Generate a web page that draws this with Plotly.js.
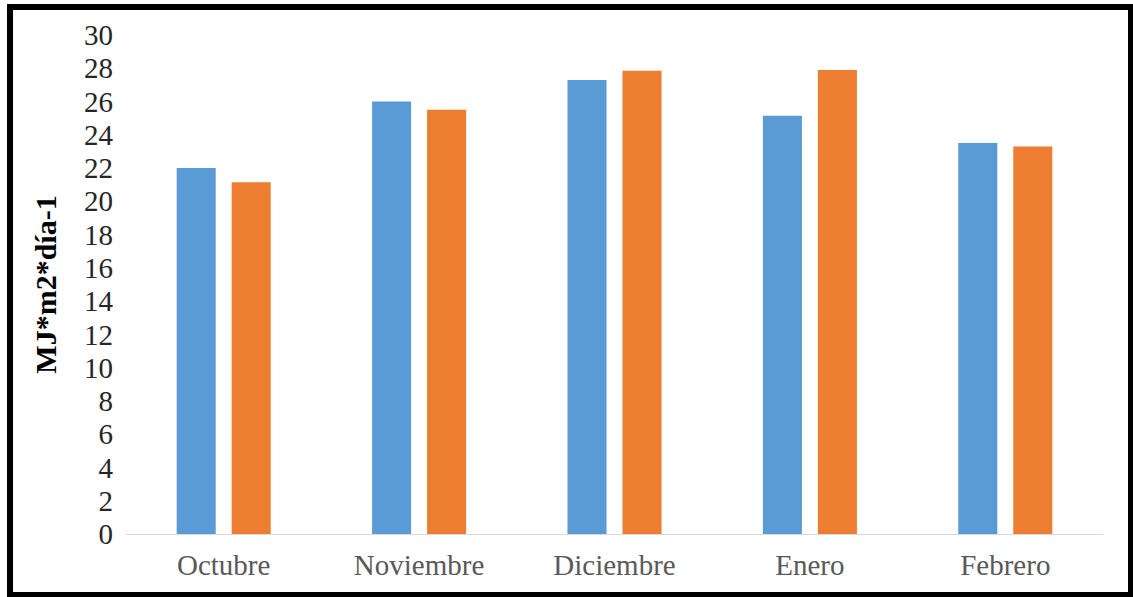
<!DOCTYPE html>
<html>
<head>
<meta charset="utf-8">
<script src="https://cdn.plot.ly/plotly-3.0.1.min.js"></script>
<style>
  html, body { margin: 0; padding: 0; background: #ffffff; }
  #wrap { position: relative; width: 1133px; height: 597px; overflow: hidden; }
  #chart { position: absolute; left: 0; top: 0; width: 1133px; height: 597px; }
  #frame {
    position: absolute; left: 7px; top: 4px; width: 1126px; height: 593px;
    box-sizing: border-box; border: 6px solid #000; border-right-width: 5px; border-bottom-width: 5px;
    pointer-events: none;
  }
</style>
</head>
<body>
<div id="wrap">
  <div id="chart"></div>
  <div id="frame"></div>
</div>
<script>
// Monthly daily radiation, two series per month
const months = ['Octubre', 'Noviembre', 'Diciembre', 'Enero', 'Febrero'];
const seriesA = [22.0, 26.0, 27.3, 25.15, 23.5];
const seriesB = [21.15, 25.5, 27.85, 27.9, 23.3];
const yTicks = [0, 2, 4, 6, 8, 10, 12, 14, 16, 18, 20, 22, 24, 26, 28, 30];

const serif = 'Liberation Serif, Times New Roman, serif';

const traces = [
  { type: 'bar', x: months, y: seriesA, marker: { color: '#5B9BD5' }, hoverinfo: 'skip' },
  { type: 'bar', x: months, y: seriesB, marker: { color: '#ED7D31' }, hoverinfo: 'skip' }
];

const layout = {
  width: 1133,
  height: 597,
  margin: { l: 126, r: 30, t: 35, b: 63 },
  paper_bgcolor: '#ffffff',
  plot_bgcolor: '#ffffff',
  showlegend: false,
  barmode: 'group',
  bargap: 0.437,
  bargroupgap: 0.29,
  xaxis: {
    type: 'category',
    showgrid: false,
    showline: true,
    linecolor: '#d9d9d9',
    linewidth: 1,
    ticks: '',
    ticklabelstandoff: 5,
    tickfont: { family: serif, size: 29, color: '#595959' },
    zeroline: false
  },
  yaxis: {
    range: [0, 30],
    tickvals: yTicks,
    ticktext: yTicks.map(String),
    showgrid: false,
    showline: false,
    zeroline: false,
    ticks: '',
    ticklabelstandoff: 12,
    tickfont: { family: serif, size: 29, color: '#262626' },
    title: {
      text: 'MJ*m2*día-1',
      font: { family: serif, size: 30, color: '#000000', weight: 'bold' },
      standoff: 18
    }
  }
};

Plotly.newPlot('chart', traces, layout, { staticPlot: true, displayModeBar: false });
</script>
</body>
</html>
